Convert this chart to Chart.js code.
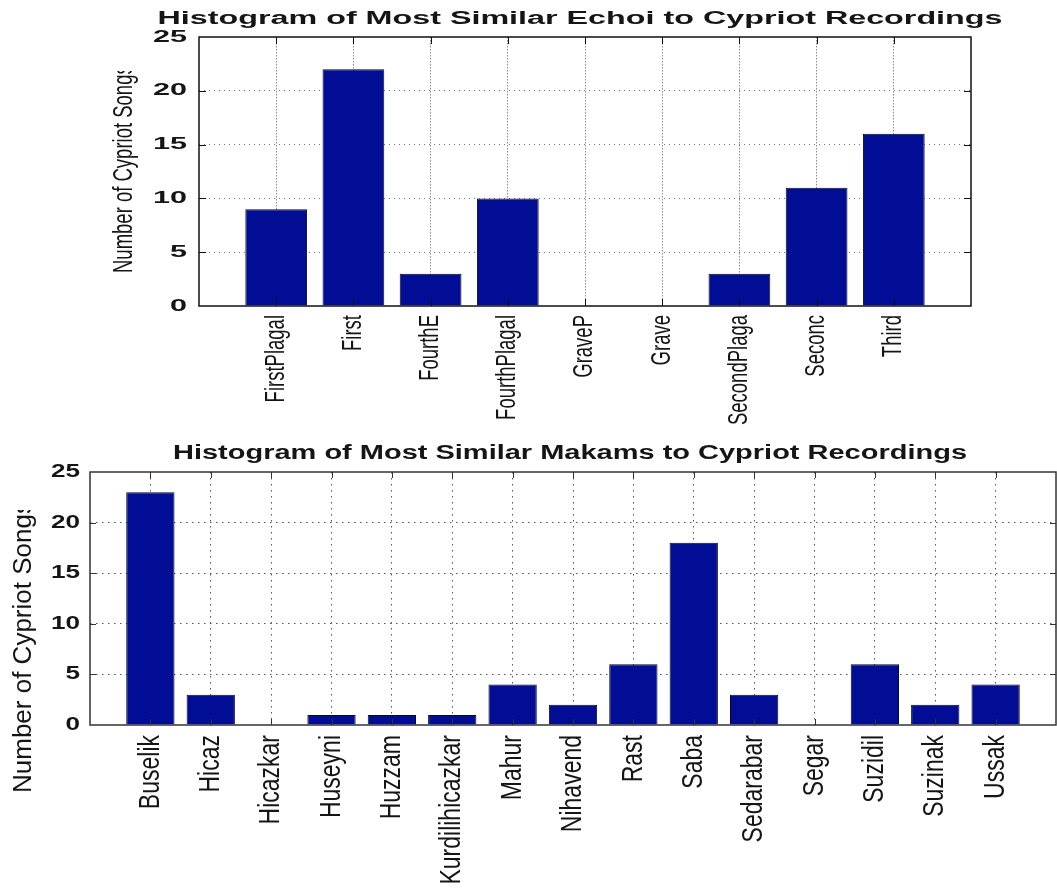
<!DOCTYPE html>
<html>
<head>
<meta charset="utf-8">
<title>Most Similar Echoi and Makams to Cypriot Recordings</title>
<script src="https://cdn.jsdelivr.net/npm/chart.js@4.4.1/dist/chart.umd.min.js"></script>
<style>
  html, body { margin: 0; padding: 0; background: #fff; }
  canvas { display: block; }
</style>
</head>
<body>
<canvas id="echoiChart" width="1057" height="440"></canvas>
<canvas id="makamChart" width="1057" height="456"></canvas>
<script>
const echoiLabels = ["FirstPlagal", "First", "FourthE", "FourthPlagal", "GraveP", "Grave", "SecondPlaga", "Seconc", "Third"];
const echoiCounts = [9, 22, 3, 10, 0, 0, 3, 11, 16];

const makamLabels = ["Buselik", "Hicaz", "Hicazkar", "Huseyni", "Huzzam", "Kurdilihicazkar", "Mahur", "Nihavend", "Rast", "Saba", "Sedarabar", "Segar", "Suzidil", "Suzinak", "Ussak"];
const makamCounts = [23, 3, 0, 1, 1, 1, 4, 2, 6, 18, 3, 0, 6, 2, 4];

const countMax = 25;
const countStep = 5;

const echoiTitle = "Histogram of Most Similar Echoi to Cypriot Recordings";
const makamTitle = "Histogram of Most Similar Makams to Cypriot Recordings";
const yAxisTitle = "Number of Cypriot Songs";

const FONT = "'Liberation Sans', Arial, Helvetica, sans-serif";

// draws text with an optional horizontal stretch, rotated to read upwards if asked
function drawText(ctx, text, x, y, o) {
  ctx.save();
  ctx.translate(x, y);
  ctx.scale(o.sx || 1, o.sy || 1);
  if (o.rotate) ctx.rotate(-Math.PI / 2);
  ctx.font = o.font;
  ctx.textAlign = o.align;
  ctx.textBaseline = o.baseline;
  ctx.fillText(text, 0, 0);
  ctx.restore();
}

// old matlab style axes: boxed plot, inward ticks, stretched text
const matlabAxes = {
  id: "matlabAxes",
  afterDatasetsDraw(chart, args, o) {
    const { ctx, chartArea: area } = chart;
    const xs = chart.scales.x;
    const ys = chart.scales.y;

    ctx.save();
    ctx.strokeStyle = o.axisColor;
    ctx.lineWidth = 1;
    ctx.beginPath();
    xs.ticks.forEach((t) => {
      if (t.value <= xs.min || t.value >= xs.max) return;
      const px = Math.round(xs.getPixelForValue(t.value)) + 0.5;
      ctx.moveTo(px, area.bottom);
      ctx.lineTo(px, area.bottom - o.tickLength);
      ctx.moveTo(px, area.top);
      ctx.lineTo(px, area.top + o.tickLength);
    });
    ys.ticks.forEach((t) => {
      if (t.value <= ys.min || t.value >= ys.max) return;
      const py = Math.round(ys.getPixelForValue(t.value)) + 0.5;
      ctx.moveTo(area.left, py);
      ctx.lineTo(area.left + o.tickLength, py);
      ctx.moveTo(area.right, py);
      ctx.lineTo(area.right - o.tickLength, py);
    });
    ctx.stroke();

    ctx.lineWidth = o.boxWidth;
    ctx.strokeRect(area.left, area.top, area.right - area.left, area.bottom - area.top);
    ctx.restore();
  },
  afterDraw(chart, args, o) {
    const { ctx, chartArea: area } = chart;
    const xs = chart.scales.x;
    const ys = chart.scales.y;
    const labels = chart.data.labels;

    ctx.save();
    ctx.fillStyle = o.textColor;

    ctx.font = o.titleFont;
    const titleW = ctx.measureText(o.title).width;
    drawText(ctx, o.title, (area.left + area.right) / 2 + o.titleShift, o.titleY, {
      font: o.titleFont, align: "center", baseline: "alphabetic", sx: o.titleWidth / titleW,
    });

    ys.ticks.forEach((t) => {
      drawText(ctx, String(t.value), area.left - o.tickGap, ys.getPixelForValue(t.value), {
        font: o.tickFont, align: "right", baseline: "middle", sx: o.tickScale,
      });
    });

    xs.ticks.forEach((t) => {
      const label = labels[t.value - 1];
      if (!label) return;
      drawText(ctx, label, xs.getPixelForValue(t.value), area.bottom + o.labelGap, {
        font: o.labelFont, align: "right", baseline: "middle", sx: o.labelScale, rotate: true,
      });
    });

    // y title is cut off at its top end
    ctx.beginPath();
    ctx.rect(0, o.yTitleClip, chart.width, chart.height);
    ctx.clip();
    drawText(ctx, o.yTitle, o.yTitleX, o.yTitleBottom, {
      font: o.yTitleFont, align: "left", baseline: "middle", sx: o.yTitleScale, rotate: true,
    });
    ctx.restore();
  },
};

function makeHistogram(canvasId, labels, counts, look) {
  const hidden = "rgba(0,0,0,0)";
  const ctx = document.getElementById(canvasId).getContext("2d");
  return new Chart(ctx, {
    type: "bar",
    data: {
      labels: labels,
      datasets: [
        {
          data: counts.map((v, i) => ({ x: i + 1, y: v })),
          backgroundColor: "#000d94",
          borderColor: "#0a0a1a",
          borderWidth: 1,
          categoryPercentage: 1,
          barPercentage: 0.8,
        },
      ],
    },
    options: {
      responsive: false,
      animation: false,
      layout: { padding: look.padding },
      plugins: {
        legend: { display: false },
        title: { display: false },
        tooltip: { enabled: false },
        matlabAxes: look.text,
      },
      scales: {
        x: {
          type: "linear",
          min: 0,
          max: labels.length + 1,
          offset: false,
          ticks: { display: false, stepSize: 1 },
          grid: {
            offset: false,
            drawTicks: false,
            lineWidth: 1,
            color: (c) => (c.tick.value <= 0 || c.tick.value >= labels.length + 1 ? hidden : look.xGridColor),
          },
          border: { display: false, dash: look.xDash },
          afterFit: (s) => { s.height = look.xAxisHeight; },
        },
        y: {
          min: 0,
          max: countMax,
          ticks: { display: false, stepSize: countStep },
          grid: {
            drawTicks: false,
            lineWidth: 1,
            color: (c) => (c.tick.value <= 0 || c.tick.value >= countMax ? hidden : look.yGridColor),
          },
          border: { display: false, dash: look.yDash },
          afterFit: (s) => { s.width = look.yAxisWidth; },
        },
      },
    },
    plugins: [matlabAxes],
  });
}

document.addEventListener("DOMContentLoaded", function () {
  makeHistogram("echoiChart", echoiLabels, echoiCounts, {
    padding: { left: 0, right: 86, top: 37, bottom: 0 },
    yAxisWidth: 199,
    xAxisHeight: 134,
    xDash: [1.5, 1.5],
    yDash: [1, 4],
    xGridColor: "#8a8a8a",
    yGridColor: "#777777",
    text: {
      axisColor: "#111111",
      textColor: "#151515",
      boxWidth: 1.5,
      tickLength: 7,
      title: echoiTitle,
      titleFont: "bold 18px " + FONT,
      titleWidth: 845,
      titleShift: -5,
      titleY: 24,
      tickFont: "bold 17px " + FONT,
      tickScale: 1.8,
      tickGap: 12,
      labelFont: "18.5px " + FONT,
      labelScale: 1.45,
      labelGap: 9,
      yTitle: yAxisTitle,
      yTitleFont: "18.5px " + FONT,
      yTitleScale: 1.45,
      yTitleX: 125,
      yTitleBottom: 273,
      yTitleClip: 71,
    },
  });

  makeHistogram("makamChart", makamLabels, makamCounts, {
    padding: { left: 0, right: 1, top: 32, bottom: 0 },
    yAxisWidth: 90,
    xAxisHeight: 171,
    xDash: [1.5, 4.5],
    yDash: [1.5, 4.5],
    xGridColor: "#555555",
    yGridColor: "#555555",
    text: {
      axisColor: "#333333",
      textColor: "#151515",
      boxWidth: 1.5,
      tickLength: 6,
      title: makamTitle,
      titleFont: "bold 19.5px " + FONT,
      titleWidth: 794,
      titleShift: -3,
      titleY: 19,
      tickFont: "bold 18px " + FONT,
      tickScale: 1.45,
      tickGap: 10,
      labelFont: "23px " + FONT,
      labelScale: 1.3,
      labelGap: 10,
      yTitle: yAxisTitle,
      yTitleFont: "26px " + FONT,
      yTitleScale: 1.0,
      yTitleX: 24,
      yTitleBottom: 353,
      yTitleClip: 70,
    },
  });
});
</script>
</body>
</html>
